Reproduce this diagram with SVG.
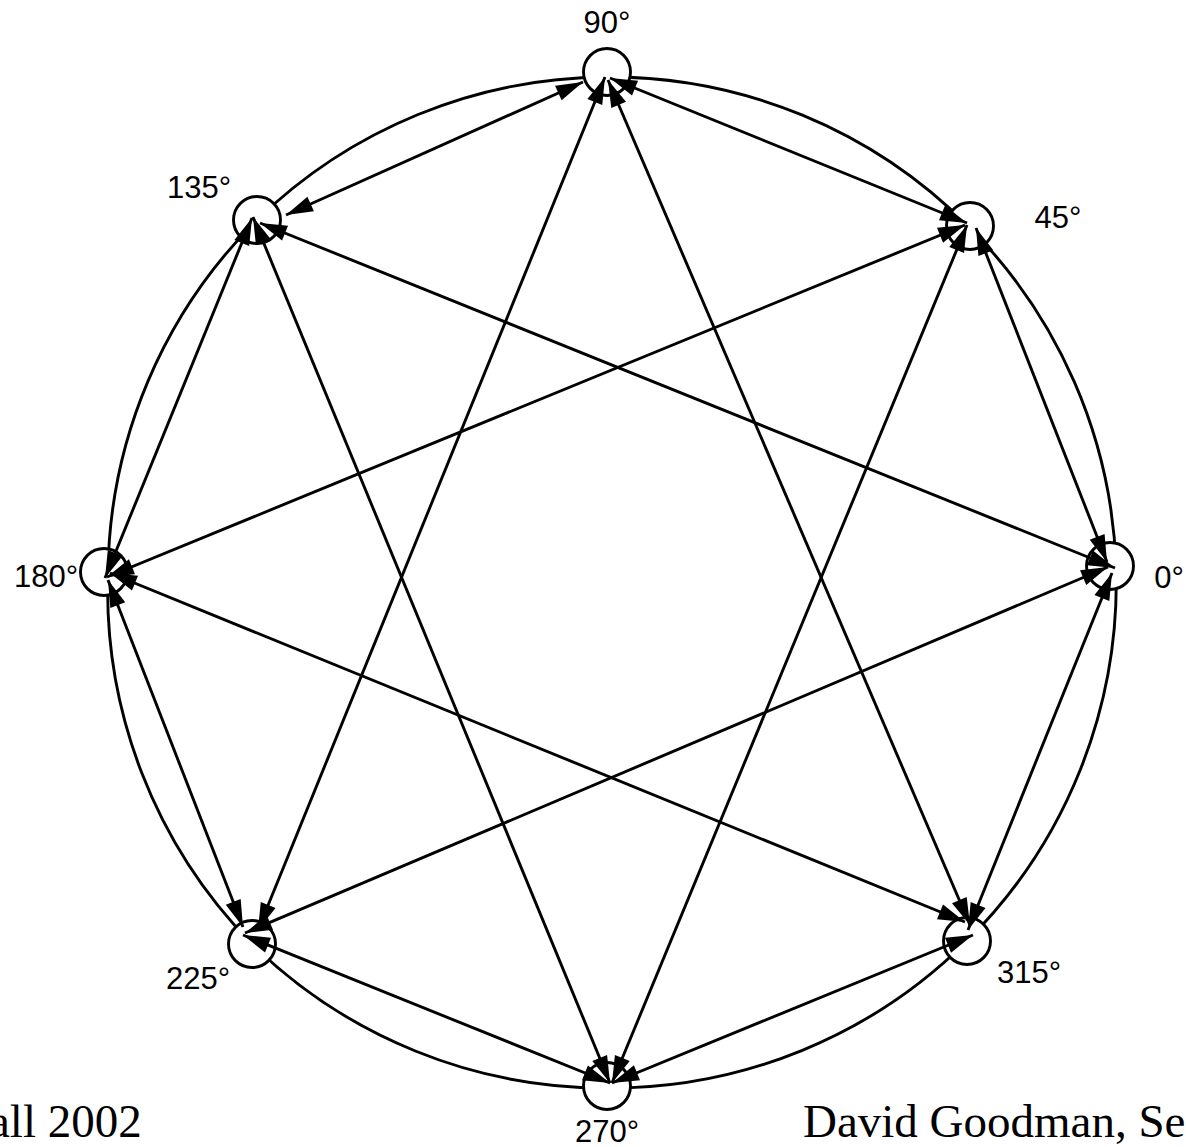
<svg xmlns="http://www.w3.org/2000/svg" width="1186" height="1147" viewBox="0 0 1186 1147">
<style>
.node{fill:#fff;stroke:#000;stroke-width:2.9}
.lbl{font-family:"Liberation Sans",Arial,sans-serif;font-size:31px;fill:#000;text-anchor:middle}
.arc{fill:none;stroke:#000;stroke-width:2.9}
.edge{fill:none;stroke:#000;stroke-width:2.9;marker-start:url(#ah);marker-end:url(#ah)}
.foot{font-family:"Liberation Serif","Times New Roman",serif;font-size:47px;fill:#000}
</style>
<defs>
<marker id="ah" markerUnits="userSpaceOnUse" markerWidth="27" markerHeight="16" refX="27" refY="8" orient="auto-start-reverse" overflow="visible">
<path d="M0,0 L27,8 L0,16 Z" fill="#000"/>
</marker>
<mask id="cut" maskUnits="userSpaceOnUse" x="0" y="0" width="1186" height="1147">
<rect x="0" y="0" width="1186" height="1147" fill="#fff"/>
<circle cx="1110" cy="566" r="24" fill="#000"/>
<circle cx="970" cy="226" r="24" fill="#000"/>
<circle cx="607" cy="72" r="24" fill="#000"/>
<circle cx="257" cy="220" r="24" fill="#000"/>
<circle cx="104" cy="572" r="24" fill="#000"/>
<circle cx="252" cy="944" r="24" fill="#000"/>
<circle cx="607" cy="1086" r="24" fill="#000"/>
<circle cx="967" cy="941" r="24" fill="#000"/>
</mask>
</defs>
<rect width="1186" height="1147" fill="#fff"/>
<g id="nodes">
<g id="n0"><circle class="node" cx="1110" cy="566" r="23.5"/><text class="lbl" x="1169" y="588">0°</text></g>
<g id="n45"><circle class="node" cx="970" cy="226" r="23.5"/><text class="lbl" x="1058" y="228">45°</text></g>
<g id="n90"><circle class="node" cx="607" cy="72" r="23.5"/><text class="lbl" x="607" y="33">90°</text></g>
<g id="n135"><circle class="node" cx="257" cy="220" r="23.5"/><text class="lbl" x="199" y="198">135°</text></g>
<g id="n180"><circle class="node" cx="104" cy="572" r="23.5"/><text class="lbl" x="46" y="587">180°</text></g>
<g id="n225"><circle class="node" cx="252" cy="944" r="23.5"/><text class="lbl" x="198" y="989">225°</text></g>
<g id="n270"><circle class="node" cx="607" cy="1086" r="23.5"/><text class="lbl" x="607" y="1142">270°</text></g>
<g id="n315"><circle class="node" cx="967" cy="941" r="23.5"/><text class="lbl" x="1029" y="983">315°</text></g>
</g>
<g id="connectors">
<g mask="url(#cut)">
<path class="arc" d="M1116,566 A505,505 0 0 0 968,226"/>
<path class="arc" d="M968,226 A505,505 0 0 0 607,77"/>
<path class="arc" d="M607,77 A505,505 0 0 0 257,220"/>
<path class="arc" d="M257,220 A505,505 0 0 0 108,572"/>
<path class="arc" d="M108,572 A505,505 0 0 0 252,944"/>
<path class="arc" d="M252,944 A505,505 0 0 0 607,1088"/>
<path class="arc" d="M607,1088 A505,505 0 0 0 967,941"/>
<path class="arc" d="M967,941 A505,505 0 0 0 1116,566"/>
</g>
<path class="edge" d="M583,82 L286,215"/>
<path class="edge" d="M610,78 L967,223"/>
<path class="edge" d="M605,77 L258,930"/>
<path class="edge" d="M608,80 L970,925"/>
<path class="edge" d="M252,218 L105,578"/>
<path class="edge" d="M260,223 L1115,568"/>
<path class="edge" d="M253,217 L610,1083"/>
<path class="edge" d="M965,225 L107,577"/>
<path class="edge" d="M976,228 L1107,562"/>
<path class="edge" d="M967,225 L612,1083"/>
<path class="edge" d="M108,580 L243,927"/>
<path class="edge" d="M110,573 L965,922"/>
<path class="edge" d="M1108,567 L245,933"/>
<path class="edge" d="M1112,573 L968,930"/>
<path class="edge" d="M243,935 L610,1083"/>
<path class="edge" d="M973,935 L612,1083"/>
</g>
<text class="foot" x="-11" y="1137">all 2002</text>
<text class="foot" x="803" y="1137">David Goodman, Se</text>
</svg>
